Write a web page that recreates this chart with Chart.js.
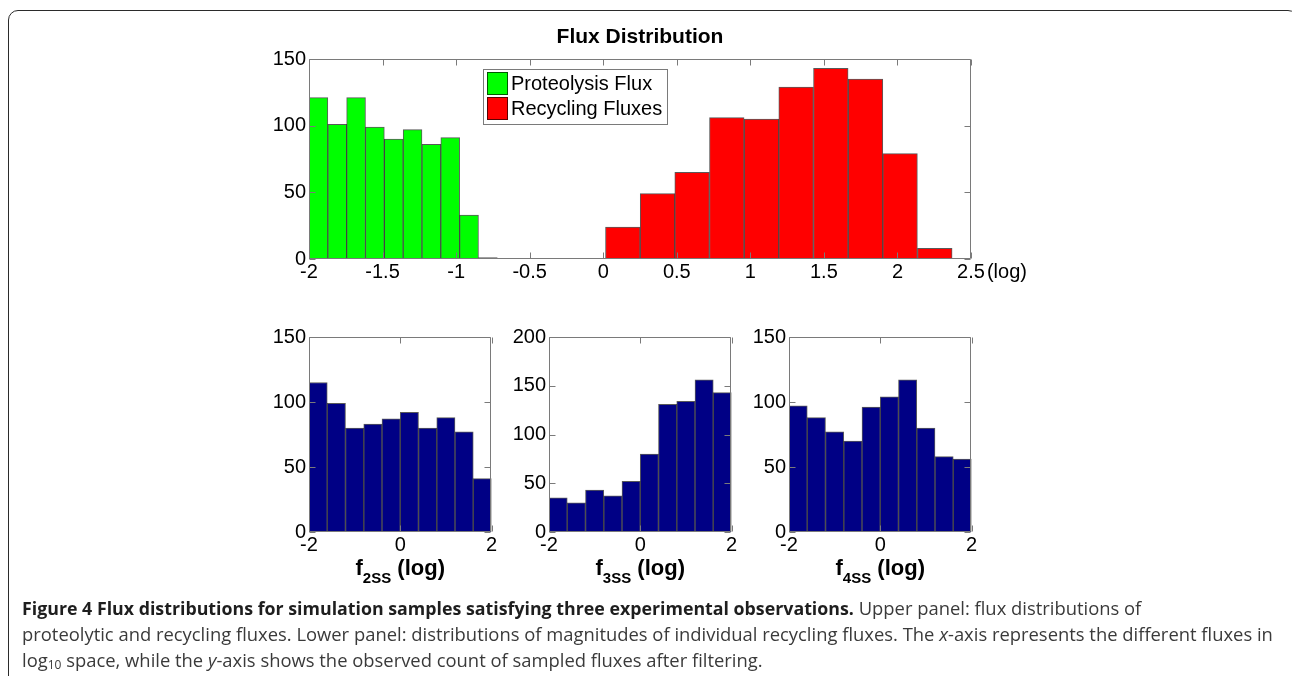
<!DOCTYPE html>
<html><head><meta charset="utf-8">
<script src="https://cdn.jsdelivr.net/npm/chart.js@4.4.1/dist/chart.umd.min.js"></script>
<style>
html,body{margin:0;padding:0;background:#fff;width:1292px;height:676px;overflow:hidden;}
#frame{position:absolute;left:8px;top:10px;width:1290px;height:720px;border:1.6px solid #2b2b2b;border-radius:10px;box-sizing:border-box;}
.wrap{position:absolute;}
#caption{position:absolute;left:22px;top:595px;font-family:"Open Sans",sans-serif;font-size:18.4px;line-height:26px;color:#3a3a3a;white-space:nowrap;}
#caption b{color:#1e1e1e;font-size:17.8px;}
#caption sub{font-size:12px;vertical-align:-2px;line-height:0;}
</style></head>
<body>
<div id="frame"></div>
<div class="wrap" style="left:200px;top:20px;width:880px;height:280px;"><canvas id="cTop"></canvas></div>
<div class="wrap" style="left:250px;top:320px;width:300px;height:280px;"><canvas id="c2"></canvas></div>
<div class="wrap" style="left:490px;top:320px;width:300px;height:280px;"><canvas id="c3"></canvas></div>
<div class="wrap" style="left:730px;top:320px;width:300px;height:280px;"><canvas id="c4"></canvas></div>
<div id="caption"><b>Figure 4 Flux distributions for simulation samples satisfying three experimental observations.</b> Upper panel: flux distributions of<br>proteolytic and recycling fluxes. Lower panel: distributions of magnitudes of individual recycling fluxes. The <i>x</i>-axis represents the different fluxes in<br>log<sub>10</sub> space, while the <i>y</i>-axis shows the observed count of sampled fluxes after filtering.</div>
<script>
// ---------- DATA ----------
const topTitle = 'Flux Distribution';
const topXTicks = [-2, -1.5, -1, -0.5, 0, 0.5, 1, 1.5, 2, 2.5];
const topYTicks = [0, 50, 100, 150];
const proteolysisCenters = [-1.936, -1.808, -1.680, -1.552, -1.424, -1.296, -1.168, -1.040, -0.912, -0.784];
const proteolysisCounts  = [121, 101, 121, 99, 90, 97, 86, 91, 33, 1];
const recyclingCenters = [0.133, 0.369, 0.604, 0.840, 1.076, 1.311, 1.547, 1.783, 2.018, 2.254];
const recyclingCounts  = [24, 49, 65, 106, 105, 129, 143, 135, 79, 8];

const lowerBinCenters = [-1.8, -1.4, -1.0, -0.6, -0.2, 0.2, 0.6, 1.0, 1.4, 1.8];
const lowerXTicks = [-2, 0, 2];
const f2ssCounts = [115, 99, 80, 83, 87, 92, 80, 88, 77, 41];
const f3ssCounts = [35, 30, 43, 37, 52, 80, 131, 134, 156, 143];
const f4ssCounts = [97, 88, 77, 70, 96, 104, 117, 80, 58, 56];
const f2ssYTicks = [0, 50, 100, 150];
const f3ssYTicks = [0, 50, 100, 150, 200];
const f4ssYTicks = [0, 50, 100, 150];

// ---------- STYLE ----------
const FONT = 'Arial, "Liberation Sans", sans-serif';
const TICK_FONT = {family: FONT, size: 20};
const FRAME = '#7a7a7a';
const EDGE = 'rgba(0,0,0,0.65)';

const toPts = (xs, ys) => xs.map((x, i) => ({x: x, y: ys[i]}));

const matlabAxes = {
  id: 'matlabAxes',
  afterDatasetsDraw(chart, args, opts) {
    const {ctx, chartArea: a, scales} = chart;
    const L = Math.floor(a.left) + 0.5, R = Math.floor(a.right) - 0.5;
    const T = Math.floor(a.top) + 0.5, B = Math.floor(a.bottom) - 0.5;
    const tl = 6;
    ctx.save();
    ctx.strokeStyle = FRAME; ctx.lineWidth = 1;
    ctx.beginPath();
    ctx.rect(L, T, R - L, B - T);
    scales.x.ticks.forEach(t => {
      const px = Math.round(scales.x.getPixelForValue(t.value)) + 0.5;
      ctx.moveTo(px, B); ctx.lineTo(px, B - tl);
      ctx.moveTo(px, T); ctx.lineTo(px, T + tl);
    });
    scales.y.ticks.forEach(t => {
      const py = Math.round(scales.y.getPixelForValue(t.value)) + 0.5;
      ctx.moveTo(L, py); ctx.lineTo(L + tl, py);
      ctx.moveTo(R, py); ctx.lineTo(R - tl, py);
    });
    ctx.stroke();

    ctx.fillStyle = '#000';
    if (opts.title) {
      ctx.font = 'bold 21px ' + FONT;
      ctx.textAlign = 'center'; ctx.textBaseline = 'alphabetic';
      ctx.fillText(opts.title, (a.left + a.right) / 2, a.top - 16);
    }
    if (opts.unit) {
      const last = scales.x.ticks[scales.x.ticks.length - 1];
      const px = scales.x.getPixelForValue(last.value);
      ctx.font = '20px ' + FONT;
      const w = ctx.measureText(String(last.value)).width;
      ctx.textAlign = 'left'; ctx.textBaseline = 'middle';
      ctx.fillText(opts.unit, px + w / 2 + 2, a.bottom + 13);
    }
    if (opts.xlabel) {
      const parts = opts.xlabel;
      let total = 0;
      parts.forEach(p => { ctx.font = 'bold ' + p.size + 'px ' + FONT; p.w = ctx.measureText(p.t).width; total += p.w; });
      let x = (a.left + a.right) / 2 - total / 2;
      const base = a.bottom + 43;
      ctx.textAlign = 'left'; ctx.textBaseline = 'alphabetic';
      parts.forEach(p => {
        ctx.font = 'bold ' + p.size + 'px ' + FONT;
        ctx.fillText(p.t, x, base + (p.dy || 0));
        x += p.w;
      });
    }
    if (opts.legend) {
      ctx.font = '20px ' + FONT;
      const ds = chart.data.datasets;
      const lx = a.left + opts.legend.dx, ly = a.top + opts.legend.dy;
      const rowH = 25, patchW = 21, patchH = 23;
      let maxW = 0;
      ds.forEach(d => { maxW = Math.max(maxW, ctx.measureText(d.label).width); });
      const bw = 4 + patchW + 3 + maxW + 5, bh = 4 + rowH * ds.length + 1;
      ctx.fillStyle = '#fff';
      ctx.fillRect(lx, ly, bw, bh);
      ctx.strokeStyle = FRAME;
      ctx.strokeRect(Math.round(lx) + 0.5, Math.round(ly) + 0.5, Math.round(bw), Math.round(bh));
      ds.forEach((d, i) => {
        const py = ly + 3 + i * rowH;
        ctx.fillStyle = d.backgroundColor;
        ctx.fillRect(lx + 4, py, patchW, patchH);
        ctx.strokeStyle = EDGE;
        ctx.strokeRect(Math.round(lx + 4) + 0.5, Math.round(py) + 0.5, patchW - 1, patchH - 1);
        ctx.fillStyle = '#000';
        ctx.textAlign = 'left'; ctx.textBaseline = 'middle';
        ctx.fillText(d.label, lx + 4 + patchW + 3, py + patchH / 2 + 1);
      });
    }
    ctx.restore();
  }
};

function fixedTicks(arr) {
  return function(scale) { scale.ticks = arr.map(v => ({value: v})); };
}

function xAxis(min, max, ticks, show) {
  const ax = {
    type: 'linear', min: min, max: max, offset: false, display: show,
    grid: {display: false, drawTicks: false, offset: false},
    border: {display: false},
    afterBuildTicks: fixedTicks(ticks),
    ticks: {font: TICK_FONT, color: '#000', padding: 1, maxRotation: 0, autoSkip: false,
            callback: v => String(v)}
  };
  if (show) ax.afterFit = s => { s.height = 30; };
  return ax;
}
function yAxis(max, ticks) {
  return {
    type: 'linear', min: 0, max: max,
    grid: {display: false, drawTicks: false},
    border: {display: false},
    afterBuildTicks: fixedTicks(ticks),
    afterFit(s) { s.width = 50; },
    ticks: {font: TICK_FONT, color: '#000', padding: 3, callback: v => String(v)}
  };
}

function barDs(label, pts, color, xAxisID) {
  return {label: label, data: pts, backgroundColor: color, borderColor: EDGE, borderWidth: 1,
          borderSkipped: 'start', barPercentage: 1, categoryPercentage: 1, grouped: false,
          xAxisID: xAxisID || 'x'};
}

const common = {responsive: true, maintainAspectRatio: false, animation: false, events: []};

// ---------- TOP ----------
new Chart(document.getElementById('cTop'), {
  type: 'bar',
  data: {datasets: [
    barDs('Proteolysis Flux', toPts(proteolysisCenters, proteolysisCounts), '#00ff00', 'x'),
    barDs('Recycling Fluxes', toPts(recyclingCenters, recyclingCounts), '#ff0000', 'x2')
  ]},
  options: Object.assign({}, common, {
    layout: {padding: {left: 59, top: 39, right: 109, bottom: 11}},
    scales: {
      x: xAxis(-2, 2.5, topXTicks, true),
      x2: xAxis(-2, 2.5, topXTicks, false),
      y: yAxis(150, topYTicks)
    },
    plugins: {legend: {display: false}, tooltip: {enabled: false},
      matlabAxes: {title: topTitle, unit: '(log)', legend: {dx: 174, dy: 10}}}
  }),
  plugins: [matlabAxes]
});

// ---------- LOWER ----------
function lower(id, counts, ymax, yticks, sub) {
  new Chart(document.getElementById(id), {
    type: 'bar',
    data: {datasets: [barDs(sub, toPts(lowerBinCenters, counts), '#000085', 'x')]},
    options: Object.assign({}, common, {
      layout: {padding: {left: 9, top: 17, right: 58.5, bottom: 38}},
      scales: {x: xAxis(-2, 2, lowerXTicks, true), y: yAxis(ymax, yticks)},
      plugins: {legend: {display: false}, tooltip: {enabled: false},
        matlabAxes: {xlabel: [{t: 'f', size: 22}, {t: sub, size: 15, dy: 8}, {t: ' (log)', size: 22}]}}
    }),
    plugins: [matlabAxes]
  });
}
lower('c2', f2ssCounts, 150, f2ssYTicks, '2SS');
lower('c3', f3ssCounts, 200, f3ssYTicks, '3SS');
lower('c4', f4ssCounts, 150, f4ssYTicks, '4SS');
</script>
</body></html>
